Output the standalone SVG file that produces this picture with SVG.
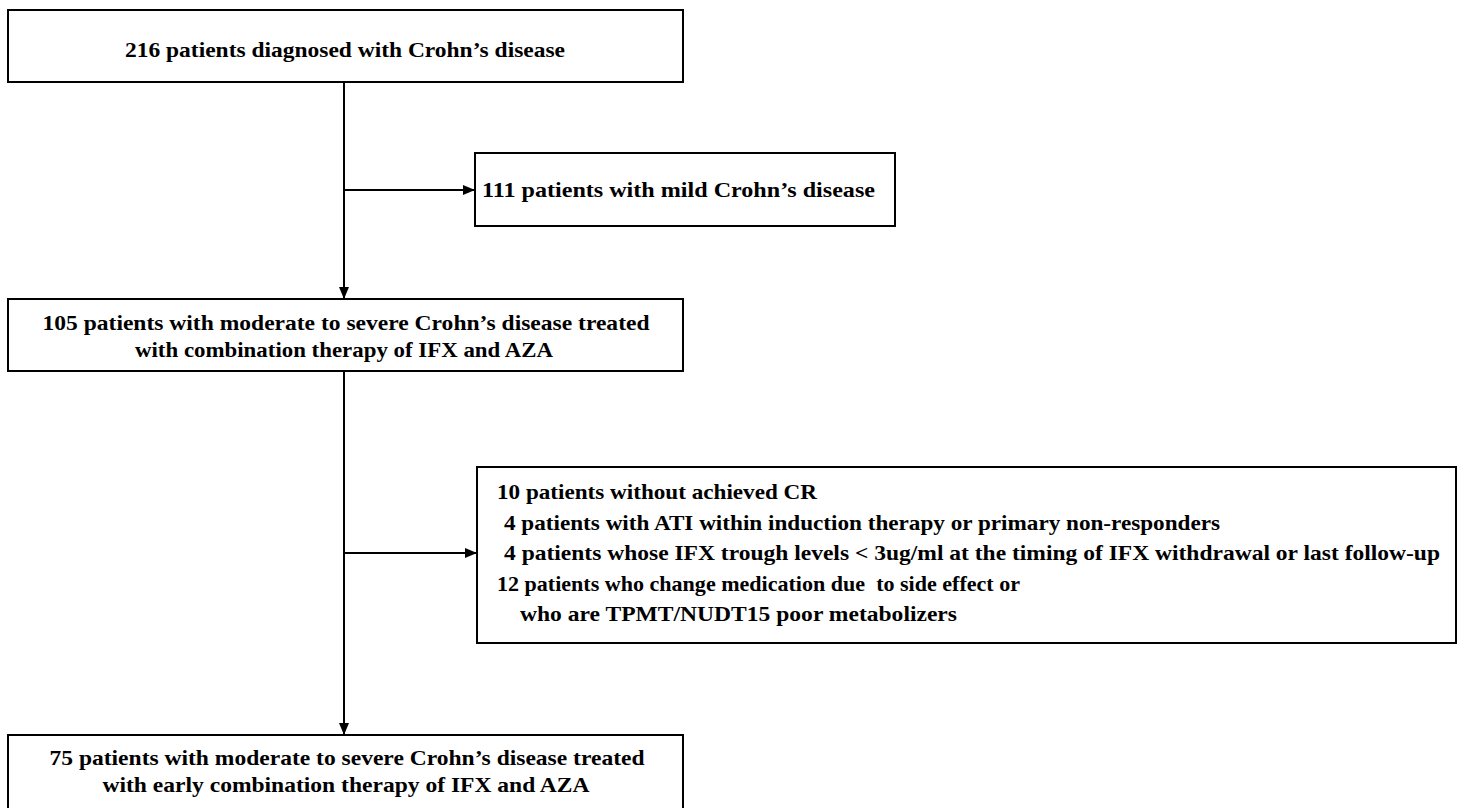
<svg xmlns="http://www.w3.org/2000/svg" width="1465" height="808" viewBox="0 0 1465 808">
<style>
.box{fill:#fff;stroke:#000;stroke-width:2}
.t{font-family:"Liberation Serif","Times New Roman",serif;font-weight:bold;font-size:22px;fill:#000}
.c{text-anchor:middle}
.ln{stroke:#000;stroke-width:2;fill:none}
</style>
<defs>
<marker id="ah" viewBox="0 0 12 10" refX="12" refY="5" markerWidth="12" markerHeight="10" markerUnits="userSpaceOnUse" orient="auto">
<path d="M0,0 L12,5 L0,10 z" fill="#000"/>
</marker>
</defs>
<g id="connectors">
<line class="ln" x1="344" y1="82" x2="344" y2="299" marker-end="url(#ah)"/>
<line class="ln" x1="344" y1="190" x2="475" y2="190" marker-end="url(#ah)"/>
<line class="ln" x1="344" y1="371" x2="344" y2="735" marker-end="url(#ah)"/>
<line class="ln" x1="344" y1="553" x2="477" y2="553" marker-end="url(#ah)"/>
</g>
<g id="n1">
<rect class="box" x="8" y="10" width="675" height="72"/>
<text class="t c" x="345" y="57" textLength="440" lengthAdjust="spacingAndGlyphs">216 patients diagnosed with Crohn’s disease</text>
</g>
<g id="n2">
<rect class="box" x="475" y="153" width="420" height="73"/>
<text class="t" x="482" y="197" textLength="393" lengthAdjust="spacingAndGlyphs">111 patients with mild Crohn’s disease</text>
</g>
<g id="n3">
<rect class="box" x="8" y="299" width="675" height="72"/>
<text class="t c" x="346" y="330" textLength="607" lengthAdjust="spacingAndGlyphs">105 patients with moderate to severe Crohn’s disease treated</text>
<text class="t c" x="344" y="357" textLength="418" lengthAdjust="spacingAndGlyphs">with combination therapy of IFX and AZA</text>
</g>
<g id="n4">
<rect class="box" x="477" y="467" width="979" height="176"/>
<text class="t" x="497" y="499" textLength="320" lengthAdjust="spacingAndGlyphs">10 patients without achieved CR</text>
<text class="t" x="504" y="530" textLength="716" lengthAdjust="spacingAndGlyphs">4 patients with ATI within induction therapy or primary non-responders</text>
<text class="t" x="504" y="560" textLength="936" lengthAdjust="spacingAndGlyphs">4 patients whose IFX trough levels &lt; 3ug/ml at the timing of IFX withdrawal or last follow-up</text>
<text class="t" x="497" y="591" textLength="523" lengthAdjust="spacingAndGlyphs" xml:space="preserve">12 patients who change medication due  to side effect or</text>
<text class="t" x="520" y="621" textLength="437" lengthAdjust="spacingAndGlyphs">who are TPMT/NUDT15 poor metabolizers</text>
</g>
<g id="n5">
<rect class="box" x="8" y="735" width="675" height="80"/>
<text class="t c" x="347" y="765" textLength="595" lengthAdjust="spacingAndGlyphs">75 patients with moderate to severe Crohn’s disease treated</text>
<text class="t c" x="346" y="792" textLength="487" lengthAdjust="spacingAndGlyphs">with early combination therapy of IFX and AZA</text>
</g>
</svg>
